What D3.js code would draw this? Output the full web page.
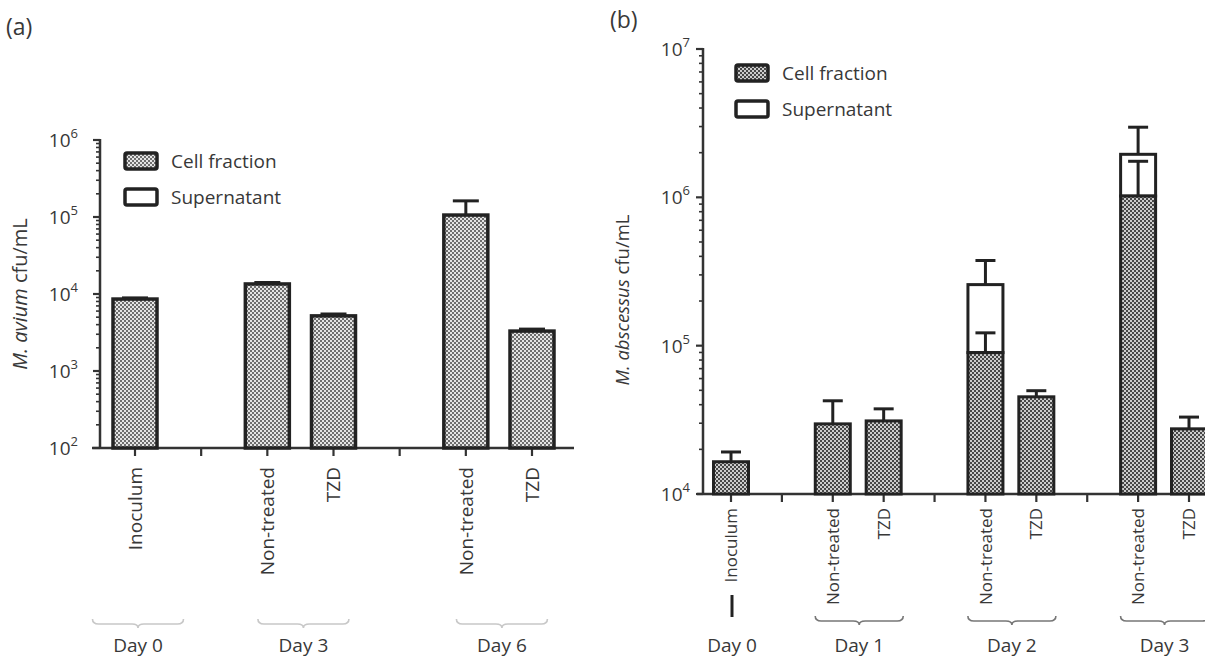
<!DOCTYPE html>
<html><head><meta charset="utf-8">
<script src="https://cdn.jsdelivr.net/npm/d3@7"></script>
<style>body{margin:0;background:#fff}svg{display:block}text{font-family:'Open Sans',sans-serif;font-weight:400;fill:#383838}</style>
</head><body><svg id="c" width="1205" height="659"></svg>
<script>
// ---------- data: panel (a) M. avium ----------
const slotsA = ["Inoculum","gapA1","D3 Non-treated","D3 TZD","gapA2","D6 Non-treated","D6 TZD"];
const barsA = ["Inoculum","D3 Non-treated","D3 TZD","D6 Non-treated","D6 TZD"];
const labelsA = ["Inoculum","Non-treated","TZD","Non-treated","TZD"];
const cellA = [8600, 13500, 5200, 106000, 3300];
const cellErrA = [8900, 14100, 5500, 162000, 3500];
const groupsA = ["Day 0","Day 3","Day 6"];
const groupMembersA = [["Inoculum"],["D3 Non-treated","D3 TZD"],["D6 Non-treated","D6 TZD"]];
const yExpA = [2,3,4,5,6];

// ---------- data: panel (b) M. abscessus ----------
const slotsB = ["Inoculum","gapB1","D1 Non-treated","D1 TZD","gapB2","D2 Non-treated","D2 TZD","gapB3","D3 Non-treated","D3 TZD"];
const barsB = ["Inoculum","D1 Non-treated","D1 TZD","D2 Non-treated","D2 TZD","D3 Non-treated","D3 TZD"];
const labelsB = ["Inoculum","Non-treated","TZD","Non-treated","TZD","Non-treated","TZD"];
const cellB = [16500, 29700, 31100, 89800, 45200, 1020000, 27500];
const cellErrB = [19200, 42500, 37500, 122000, 49700, 1750000, 33000];
const totalB = [null, null, null, 258000, null, 1950000, null];
const totalErrB = [null, null, null, 375000, null, 2970000, null];
const groupsB = ["Day 0","Day 1","Day 2","Day 3"];
const groupMembersB = [["Inoculum"],["D1 Non-treated","D1 TZD"],["D2 Non-treated","D2 TZD"],["D3 Non-treated","D3 TZD"]];
const yExpB = [4,5,6,7];

const legendItems = ["Cell fraction","Supernatant"];

const svg = d3.select("#c");
const defs = svg.append("defs");
function pattern(id, light, dark){
  const p = defs.append("pattern").attr("id",id).attr("width",4).attr("height",4).attr("patternUnits","userSpaceOnUse");
  p.append("rect").attr("width",4).attr("height",4).attr("fill",light);
  p.append("rect").attr("width",2).attr("height",2).attr("fill",dark);
  p.append("rect").attr("x",2).attr("y",2).attr("width",2).attr("height",2).attr("fill",dark);
}
pattern("patA","#e4e4e4","#6e6e6e");
pattern("patB","#cccccc","#474747");

function bracePath(x0,x1,y,h){
  const xc=(x0+x1)/2, r=6, m=y+h*0.55;
  const p=d3.path();
  p.moveTo(x0,y);
  p.quadraticCurveTo(x0,m,x0+r,m);
  p.lineTo(xc-r,m);
  p.quadraticCurveTo(xc,m,xc,y+h);
  p.quadraticCurveTo(xc,m,xc+r,m);
  p.lineTo(x1-r,m);
  p.quadraticCurveTo(x1,m,x1,y);
  return p.toString();
}

function panel(cfg){
  const g = svg.append("g");
  const x = d3.scalePoint().domain(cfg.slots).range(cfg.xRange);
  const y = d3.scaleLog().domain(cfg.yDomain).range(cfg.yRange);
  const base = y(cfg.yDomain[0]);
  const axisColor="#333";

  g.append("text").attr("x",cfg.letterPos[0]).attr("y",cfg.letterPos[1]).attr("font-size",23).text(cfg.letter);

  const ticks=[];
  for(let e=cfg.yExp[0]; e<cfg.yExp[cfg.yExp.length-1]; e++){
    for(let k=2;k<=9;k++) ticks.push({v:k*Math.pow(10,e),major:false});
  }
  cfg.yExp.forEach(e=>ticks.push({v:Math.pow(10,e),major:true}));
  g.selectAll(".yt").data(ticks).join("line")
    .attr("x1",cfg.yAxisX).attr("x2",d=>cfg.yAxisX-(d.major?7:4))
    .attr("y1",d=>y(d.v)).attr("y2",d=>y(d.v))
    .attr("stroke",axisColor).attr("stroke-width",d=>d.major?2.2:1.6);
  g.append("line").attr("x1",cfg.yAxisX).attr("x2",cfg.yAxisX)
    .attr("y1",y(cfg.yDomain[1])-1).attr("y2",base).attr("stroke",axisColor).attr("stroke-width",2.5);
  const yl = g.selectAll(".yl").data(cfg.yExp).join("text")
    .attr("x",cfg.yAxisX-cfg.yLabOff).attr("y",d=>y(Math.pow(10,d))+7).attr("text-anchor","end").attr("font-size",19);
  yl.append("tspan").text("10");
  yl.append("tspan").attr("dy",-9).attr("font-size",13).text(d=>d);

  const lab = g.append("text").attr("transform",`translate(${cfg.yLabelX},${cfg.yLabelY}) rotate(-90)`)
    .attr("text-anchor","middle").attr("font-size",cfg.yLabelSize);
  lab.append("tspan").attr("font-style","italic").text(cfg.yLabelItalic);
  lab.append("tspan").text(cfg.yLabelRest);

  g.append("line").attr("x1",cfg.xAxisStart).attr("x2",cfg.xAxisEnd).attr("y1",base).attr("y2",base)
    .attr("stroke",axisColor).attr("stroke-width",2.5);
  g.selectAll(".xt").data(cfg.slots).join("line")
    .attr("x1",d=>x(d)).attr("x2",d=>x(d)).attr("y1",base).attr("y2",base+8)
    .attr("stroke",axisColor).attr("stroke-width",2.2);

  const bw = cfg.barWidth;
  cfg.bars.forEach((key,i)=>{
    const cx = x(key);
    const tot = cfg.total ? cfg.total[i] : null;
    if(tot){
      g.append("rect").attr("x",cx-bw/2).attr("y",y(tot)).attr("width",bw).attr("height",y(cfg.cell[i])-y(tot))
        .attr("fill","#fff").attr("stroke","#222").attr("stroke-width",cfg.strokeW);
      g.append("line").attr("x1",cx).attr("x2",cx).attr("y1",y(tot)).attr("y2",y(cfg.totalErr[i])).attr("stroke","#222").attr("stroke-width",3);
      g.append("line").attr("x1",cx-cfg.capW/2).attr("x2",cx+cfg.capW/2).attr("y1",y(cfg.totalErr[i])).attr("y2",y(cfg.totalErr[i])).attr("stroke","#222").attr("stroke-width",3);
    }
    g.append("line").attr("x1",cx).attr("x2",cx).attr("y1",y(cfg.cell[i])).attr("y2",y(cfg.cellErr[i])).attr("stroke","#222").attr("stroke-width",3);
    g.append("line").attr("x1",cx-cfg.capW/2).attr("x2",cx+cfg.capW/2).attr("y1",y(cfg.cellErr[i])).attr("y2",y(cfg.cellErr[i])).attr("stroke","#222").attr("stroke-width",3);
    g.append("rect").attr("x",cx-bw/2).attr("y",y(cfg.cell[i])).attr("width",bw).attr("height",base-y(cfg.cell[i]))
      .attr("fill",`url(#${cfg.pat})`).attr("stroke","#222").attr("stroke-width",cfg.strokeW);
  });

  g.selectAll(".xl").data(cfg.bars).join("text")
    .attr("transform",(d,i)=>`translate(${x(d)+cfg.labelSize*0.36},${base+cfg.labelGap}) rotate(-90)`)
    .attr("text-anchor","end").attr("font-size",cfg.labelSize)
    .text((d,i)=>cfg.labels[i]);

  cfg.groups.forEach((gname,j)=>{
    const mem = cfg.groupMembers[j];
    const gc = (x(mem[0])+x(mem[mem.length-1]))/2;
    if(mem.length>1 || cfg.braceSingle){
      g.append("path").attr("d",bracePath(gc-cfg.braceW/2+cfg.dayDx,gc+cfg.braceW/2+cfg.dayDx,cfg.braceY,9))
        .attr("fill","none").attr("stroke",cfg.braceColor).attr("stroke-width",1.6);
    } else {
      g.append("line").attr("x1",gc+1).attr("x2",gc+1).attr("y1",cfg.braceY-21).attr("y2",cfg.braceY+1)
        .attr("stroke","#222").attr("stroke-width",3);
    }
    g.append("text").attr("x",gc+cfg.dayDx).attr("y",cfg.dayY).attr("text-anchor","middle").attr("font-size",19).text(gname);
  });

  legendItems.forEach((t,k)=>{
    const ly = cfg.legendPos[1]+k*36;
    g.append("rect").attr("x",cfg.legendPos[0]).attr("y",ly).attr("width",32).attr("height",16).attr("rx",2)
      .attr("fill",k===0?`url(#${cfg.pat})`:"#fff").attr("stroke","#222").attr("stroke-width",3.5);
    g.append("text").attr("x",cfg.legendPos[0]+46).attr("y",ly+15).attr("font-size",19).text(t);
  });
}

panel({
  letter:"(a)", letterPos:[6,35], slots:slotsA, bars:barsA, labels:labelsA,
  cell:cellA, cellErr:cellErrA, total:null, groups:groupsA, groupMembers:groupMembersA,
  yExp:yExpA, yDomain:[1e2,1e6], yRange:[448,140], xRange:[135,532],
  yAxisX:100, yLabOff:22, xAxisStart:92, xAxisEnd:574, barWidth:44, capW:26, strokeW:3.5, pat:"patA",
  yLabelX:27, yLabelY:294, yLabelSize:20, yLabelItalic:"M. avium", yLabelRest:" cfu/mL",
  labelGap:19, labelSize:19, braceY:619, braceW:91, braceColor:"#c8c8c8", braceSingle:true,
  dayY:652, dayDx:3, legendPos:[125,153]
});
panel({
  letter:"(b)", letterPos:[610,28], slots:slotsB, bars:barsB, labels:labelsB,
  cell:cellB, cellErr:cellErrB, total:totalB, totalErr:totalErrB, groups:groupsB, groupMembers:groupMembersB,
  yExp:yExpB, yDomain:[1e4,1e7], yRange:[494,49], xRange:[731,1189],
  yAxisX:703, yLabOff:13, xAxisStart:697, xAxisEnd:1205, barWidth:35, capW:20, strokeW:3, pat:"patB",
  yLabelX:629, yLabelY:300, yLabelSize:18.5, yLabelItalic:"M. abscessus", yLabelRest:" cfu/mL",
  labelGap:14, labelSize:17, braceY:616, braceW:88, braceColor:"#777", braceSingle:false,
  dayY:652, dayDx:1, legendPos:[736,65]
});
</script></body></html>
